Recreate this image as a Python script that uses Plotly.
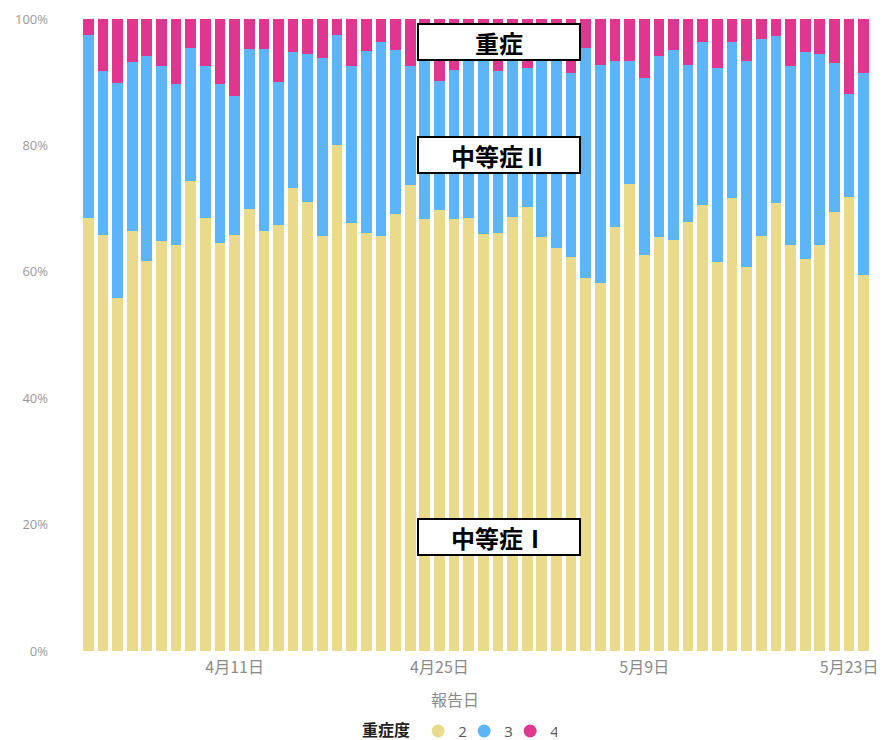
import plotly.graph_objects as go

# ---- data (percent of reported cases by severity, per report date) ----
dates = [
    "2021-04-01", "2021-04-02", "2021-04-03", "2021-04-04", "2021-04-05", "2021-04-06",
    "2021-04-07", "2021-04-08", "2021-04-09", "2021-04-10", "2021-04-11", "2021-04-12",
    "2021-04-13", "2021-04-14", "2021-04-15", "2021-04-16", "2021-04-17", "2021-04-18",
    "2021-04-19", "2021-04-20", "2021-04-21", "2021-04-22", "2021-04-23", "2021-04-24",
    "2021-04-25", "2021-04-26", "2021-04-27", "2021-04-28", "2021-04-29", "2021-04-30",
    "2021-05-01", "2021-05-02", "2021-05-03", "2021-05-04", "2021-05-05", "2021-05-06",
    "2021-05-07", "2021-05-08", "2021-05-09", "2021-05-10", "2021-05-11", "2021-05-12",
    "2021-05-13", "2021-05-14", "2021-05-15", "2021-05-16", "2021-05-17", "2021-05-18",
    "2021-05-19", "2021-05-20", "2021-05-21", "2021-05-22", "2021-05-23", "2021-05-24",
]

# severity 2 (中等症Ⅰ)
sev2 = [68.5, 65.8, 55.8, 66.5, 61.7, 64.8, 64.2, 74.3, 68.5, 64.6, 65.8, 69.9,
        66.5, 67.4, 73.3, 71.1, 65.6, 80.1, 67.7, 66.1, 65.7, 69.1, 73.8, 68.4,
        69.8, 68.4, 68.5, 66.0, 66.2, 68.7, 70.3, 65.5, 63.7, 62.4, 59.0, 58.2,
        67.1, 73.9, 62.7, 65.5, 65.1, 67.9, 70.6, 61.6, 71.6, 60.8, 65.6, 70.9,
        64.2, 62.1, 64.3, 69.4, 71.9, 59.5]
# severity 3 (中等症Ⅱ)
sev3 = [29.0, 25.9, 34.0, 26.7, 32.5, 27.7, 25.5, 21.1, 24.0, 25.1, 22.0, 25.3,
        28.7, 22.7, 21.5, 23.3, 28.2, 17.3, 24.8, 28.8, 30.6, 26.0, 18.8, 26.1,
        20.4, 23.5, 26.5, 28.0, 25.5, 26.8, 21.9, 29.0, 31.3, 29.0, 36.4, 34.5,
        26.2, 19.4, 27.9, 28.6, 30.0, 24.8, 25.7, 30.6, 24.7, 32.5, 31.2, 26.4,
        28.3, 32.7, 30.1, 23.7, 16.2, 32.0]
# severity 4 (重症)
sev4 = [2.5, 8.3, 10.2, 6.8, 5.8, 7.5, 10.3, 4.6, 7.5, 10.3, 12.2, 4.8,
        4.8, 9.9, 5.2, 5.6, 6.2, 2.6, 7.5, 5.1, 3.7, 4.9, 7.4, 5.5,
        9.8, 8.1, 5.0, 6.0, 8.3, 4.5, 7.8, 5.5, 5.0, 8.6, 4.6, 7.3,
        6.7, 6.7, 9.4, 5.9, 4.9, 7.3, 3.7, 7.8, 3.7, 6.7, 3.2, 2.7,
        7.5, 5.2, 5.6, 6.9, 11.9, 8.5]

series_names = ["2", "3", "4"]
colors = ["#EADB8C", "#5DB5F9", "#E0368F"]

tick_dates = ["2021-04-11", "2021-04-25", "2021-05-09", "2021-05-23"]
tick_labels = ["4月11日", "4月25日", "5月9日", "5月23日"]
y_ticks = [0, 20, 40, 60, 80, 100]
y_tick_labels = ["0%", "20%", "40%", "60%", "80%", "100%"]

box_labels = ["重症", "中等症Ⅱ", "中等症Ⅰ"]

FONT = "Open Sans, Noto Sans CJK JP, sans-serif"
CJK = "Noto Sans CJK JP"

fig = go.Figure()
for name, vals, col in zip(series_names, [sev2, sev3, sev4], colors):
    fig.add_trace(go.Bar(x=dates, y=vals, name=name, marker=dict(color=col, line=dict(width=0)),
                         showlegend=False))
for name, col in zip(series_names, colors):
    # legend-only entry with a circle symbol
    fig.add_trace(go.Scatter(x=[None], y=[None], mode="markers", name=name,
                             marker=dict(symbol="circle", size=13, color=col)))

# the page body adds an 8px offset, so the figure is 8px smaller on each axis
fig.update_layout(
    width=881, height=732,
    margin=dict(l=73, r=18, t=11, b=89, autoexpand=False),
    paper_bgcolor="white", plot_bgcolor="white",
    barmode="stack", bargap=0.27,
    font=dict(family=FONT, color="#888888", size=13),
    xaxis=dict(type="date", tickvals=tick_dates, ticktext=tick_labels,
               showgrid=False, zeroline=False, showline=False, automargin=False,
               tickfont=dict(family=CJK, size=16, color="#8a8a8a"),
               ticks="", ticklabelstandoff=5),
    yaxis=dict(range=[0, 100], tickvals=y_ticks, ticktext=y_tick_labels,
               showgrid=False, zeroline=False, showline=False, automargin=False,
               tickfont=dict(family=FONT, size=13, color="#9a9a9a"),
               ticks="", ticklabelstandoff=32),
    legend=dict(orientation="h", x=0.478, xanchor="center", y=-0.127, yanchor="middle",
                traceorder="normal",
                title=dict(text="<b>重症度</b>", side="left",
                           font=dict(family=CJK, size=16, color="#222222")),
                font=dict(family=FONT, size=15, color="#555555"),
                itemwidth=30, entrywidth=1, bgcolor="rgba(0,0,0,0)"),
)

# x-axis title
fig.add_annotation(text="報告日", xref="paper", yref="paper", x=0.473, y=-0.076,
                   showarrow=False, font=dict(family=CJK, size=16, color="#8a8a8a"),
                   xanchor="center", yanchor="middle")

# label boxes
box_y = [0.9636, 0.7856, 0.1796]
for txt, yy in zip(box_labels, box_y):
    fig.add_annotation(text="<b>" + txt + "</b>", xref="paper", yref="paper",
                       x=0.529, y=yy, showarrow=False, xanchor="center", yanchor="middle",
                       width=160, height=34, align="center", valign="middle",
                       bgcolor="white", bordercolor="black", borderwidth=2, borderpad=0,
                       font=dict(family=CJK, size=24, color="black"))

fig.write_html("out.html")
